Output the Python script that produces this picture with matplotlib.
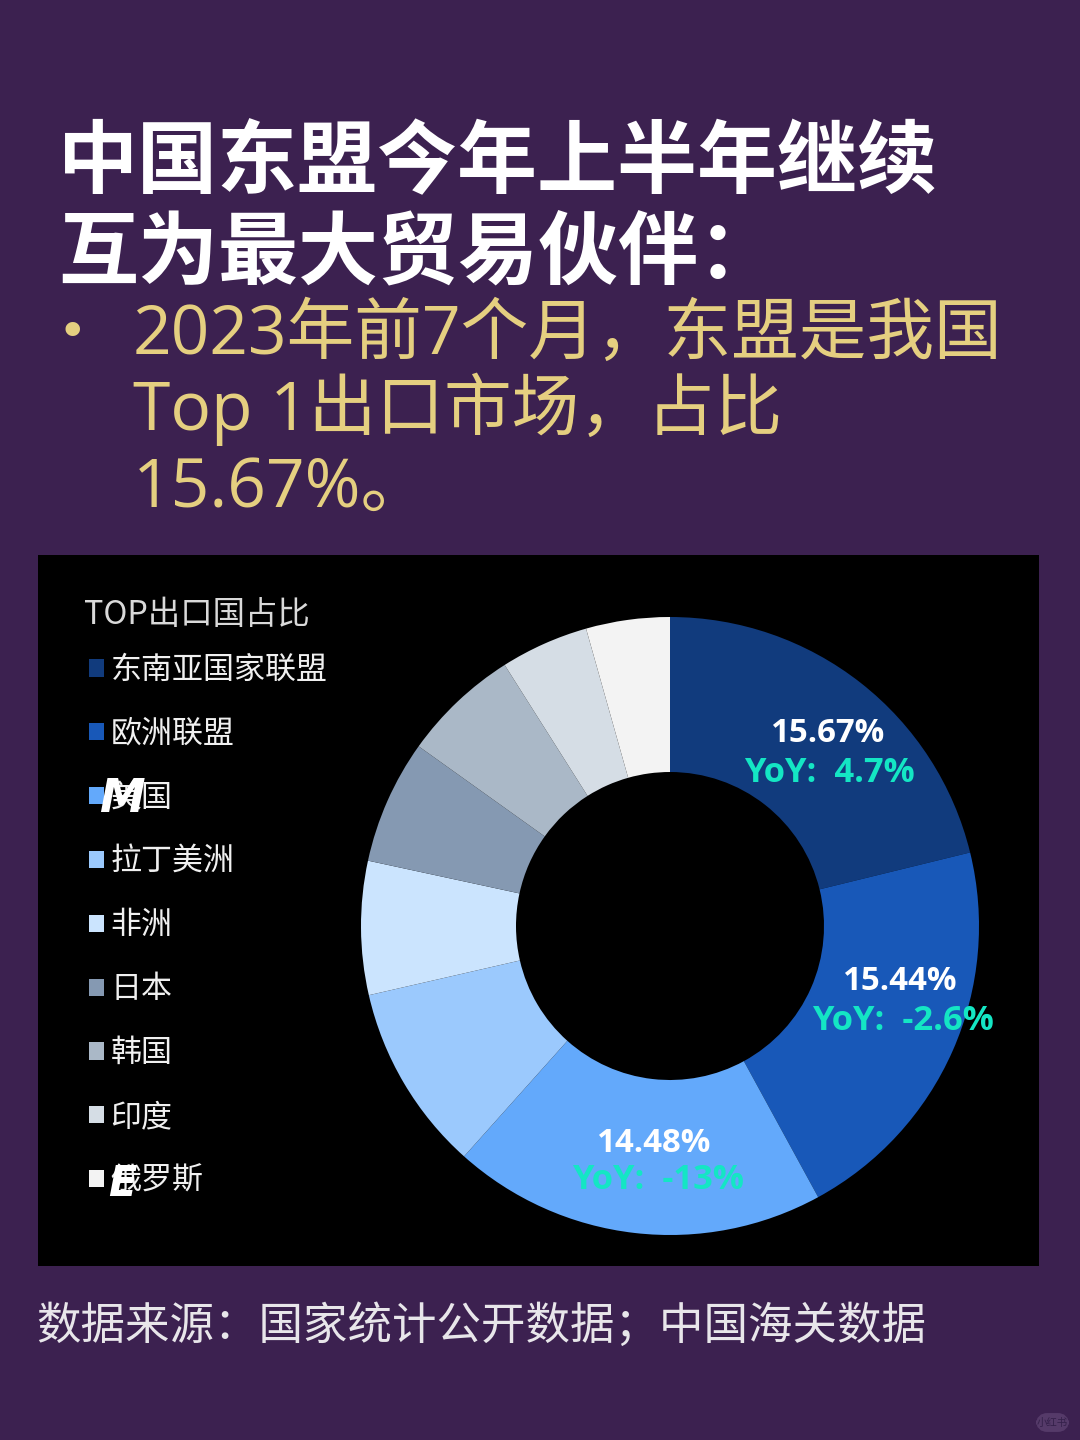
import matplotlib
matplotlib.use("Agg")
import matplotlib.pyplot as plt
from matplotlib.patches import Rectangle, FancyBboxPatch

CJK = ['Noto Sans CJK SC', 'DejaVu Sans']
LATIN_FIRST = ['Open Sans', 'Noto Sans CJK SC', 'DejaVu Sans']
plt.rcParams['font.family'] = CJK

title_lines = ["中国东盟今年上半年继续", "互为最大贸易伙伴："]
bullet_lines = ["2023年前7个月，东盟是我国", "Top 1出口市场，占比", "15.67%。"]
source_text = "数据来源：国家统计公开数据；中国海关数据"
legend_title = "TOP出口国占比"
categories = ["东南亚国家联盟", "欧洲联盟", "美国", "拉丁美洲", "非洲", "日本", "韩国", "印度", "俄罗斯"]
shares = [15.67, 15.44, 14.48, 7.25, 5.17, 4.80, 4.54, 3.41, 3.24]
colors = ["#113b7d", "#1858b8", "#63a9fb", "#9bc9fd", "#cbe4fe", "#8599b2", "#aab8c7", "#d5dde5", "#f3f3f3"]
share_labels = ["15.67%", "15.44%", "14.48%"]
yoy_labels = ["YoY:  4.7%", "YoY:  -2.6%", "YoY:  -13%"]

W, H = 1080, 1440
BG = "#3c2150"
fig = plt.figure(figsize=(W / 100, H / 100), dpi=100, facecolor=BG)

def fx(x): return x / W
def fy(y): return 1 - y / H

# black chart panel, kept beneath the donut axes
fig.add_artist(Rectangle((fx(38), fy(1266)), 1001 / W, 711 / H, transform=fig.transFigure,
                         facecolor="black", edgecolor="none", zorder=-5))

# title block
for y, s in zip([164, 254], title_lines):
    fig.text(fx(58), fy(y), s, color="white", fontsize=57.6, fontweight="bold", va="center", ha="left")
fig.text(fx(72), fy(333), "•", color="#e5cf80", fontsize=36, va="center", ha="center", family="DejaVu Sans")
for y, s in zip([336, 409, 489], bullet_lines):
    fig.text(fx(133), fy(y), s, color="#e5cf80", fontsize=48.7, va="center", ha="left", family=LATIN_FIRST)

fig.text(fx(36), fy(1326), source_text, color="#e8e6ea", fontsize=32, va="center", ha="left")

# donut: centre (670, 926), outer radius 309, inner radius 154
R = 309
ax = fig.add_axes([fx(670 - R), fy(926 + R), 2 * R / W, 2 * R / H])
ax.set_aspect("equal")
wedges, _ = ax.pie(shares, colors=colors, startangle=90, counterclock=False, radius=1.0,
                   wedgeprops=dict(width=155 / R, edgecolor="none"))
ax.set_xlim(-1, 1)
ax.set_ylim(-1, 1)

# value labels
label_pos = [((827, 733), (829, 773)), ((899, 981), (903, 1021)), ((653, 1144), (658, 1180))]
for (p1, p2), s1, s2 in zip(label_pos, share_labels, yoy_labels):
    fig.text(fx(p1[0]), fy(p1[1]), s1, color="white", fontsize=23.8, fontweight="bold",
             ha="center", va="center", family=['Open Sans', 'DejaVu Sans'], zorder=5)
    fig.text(fx(p2[0]), fy(p2[1]), s2, color="#14e6c4", fontsize=24.8, fontweight="bold",
             ha="center", va="center", family=['Open Sans', 'DejaVu Sans'], zorder=5)

# legend
leg = fig.legend(wedges, categories, loc="upper left", bbox_to_anchor=(fx(89), fy(655)),
                 frameon=False, fontsize=22.3, labelcolor="#f0f0f0", handlelength=0.48, handleheight=0.48,
                 handletextpad=0.22, labelspacing=1.06, borderpad=0, borderaxespad=0)
fig.text(fx(84), fy(615), legend_title, color="#d9d9d9", fontsize=23.3, va="center", ha="left")

# app watermark letters that overlap two legend rows
fig.text(fx(122), fy(799), "M", color="white", fontsize=33, fontweight="bold", fontstyle="italic",
         ha="center", va="center", family="DejaVu Sans", zorder=6)
fig.text(fx(122), fy(1184), "E", color="white", fontsize=30, fontweight="bold", fontstyle="italic",
         ha="center", va="center", family="DejaVu Sans", zorder=6)

# faint platform badge, bottom right
fig.add_artist(FancyBboxPatch((fx(1043), fy(1425)), 19 / W, 5 / H, transform=fig.transFigure,
                              boxstyle="round,pad=0,rounding_size=0.004", mutation_aspect=W / H,
                              facecolor="#553a69", edgecolor="#553a69", linewidth=10))
fig.text(fx(1052), fy(1423), "小红书", color="#34204a", fontsize=7.5, ha="center", va="center", zorder=6)

fig.savefig("out.png", dpi=100, facecolor=fig.get_facecolor())
